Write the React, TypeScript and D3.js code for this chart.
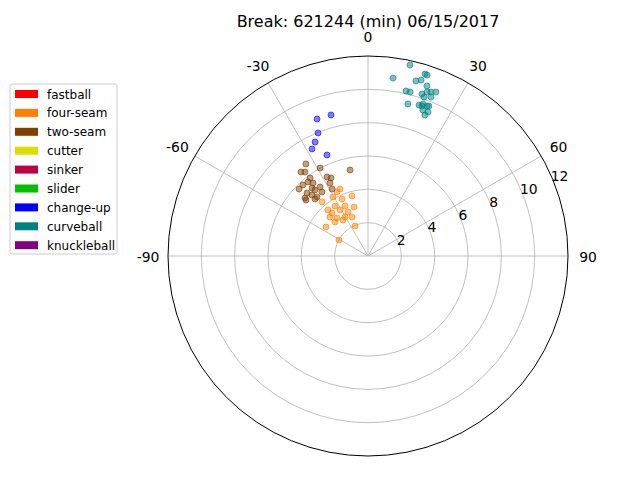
import * as d3 from "d3"

// pitch break samples: [theta (deg, 0 = up, clockwise), break (in)]
const fourSeam: [number, number][] = [
  [-22.7, 4.36], [-25.8, 4.27], [-30.7, 4.12], [-24.5, 3.76], [-14.9, 3.73], [-40.4, 4.26],
  [-33.4, 3.59], [-24.7, 3.3], [-15.9, 3.06], [-41.0, 3.66], [-39.9, 3.36], [-31.3, 3.23],
  [-24.4, 2.9], [-44.3, 3.27], [-39.2, 2.94], [-30.5, 2.72], [-22.3, 2.53], [-44.1, 2.84],
  [-34.8, 2.63], [-55.4, 3.06], [-23.4, 1.96], [-61.1, 1.99],
]
const twoSeam: [number, number][] = [
  [-34.0, 6.66], [-38.6, 6.45], [-28.6, 6.01], [-11.8, 5.27], [-36.9, 6.3], [-36.6, 5.83],
  [-39.0, 5.72], [-37.0, 5.48], [-27.4, 5.34], [-25.4, 5.18], [-27.5, 4.94], [-42.5, 5.78],
  [-45.8, 5.77], [-39.5, 5.28], [-38.8, 5.08], [-34.8, 5.04], [-35.7, 4.73], [-28.2, 4.56],
  [-44.1, 5.26], [-42.6, 4.97], [-40.8, 4.68], [-47.4, 5.14], [-42.9, 4.67], [-47.9, 5.01],
]
const changeUp: [number, number][] = [
  [-20.4, 8.77], [-14.7, 8.75], [-22.1, 7.97], [-24.9, 7.54], [-27.6, 7.25], [-22.1, 6.54],
]
const curveball: [number, number][] = [
  [12.4, 11.73], [8.0, 10.78], [17.4, 11.44], [18.1, 11.42], [15.3, 10.89], [16.8, 11.03],
  [19.1, 10.8], [13.0, 10.16], [14.4, 10.16], [18.4, 10.25], [19.8, 10.46], [21.0, 10.54],
  [22.5, 10.65], [21.6, 10.26], [14.7, 9.43], [18.7, 9.56], [19.8, 9.56], [19.9, 9.7],
  [21.5, 9.67], [22.1, 9.71], [20.6, 9.36], [22.6, 9.36], [22.0, 9.12], [19.4, 10.11],
]

const pitchTypes = ["fastball", "four-seam", "two-seam", "cutter", "sinker", "slider", "change-up", "curveball", "knuckleball"]
const pitchColors = ["#ff0000", "#ff8000", "#804000", "#dddd00", "#c00040", "#00c000", "#0000ff", "#008080", "#800080"]
const series = [
  { color: "#ff8000", data: fourSeam },
  { color: "#804000", data: twoSeam },
  { color: "#0000ff", data: changeUp },
  { color: "#008080", data: curveball },
]
const angleTicks = [-90, -60, -30, 0, 30, 60, 90]
const radialTicks = [2, 4, 6, 8, 10, 12]

export default function App() {
  const cx = 368, cy = 256, R = 200
  const r = d3.scaleLinear().domain([0, 12]).range([0, R])
  const ang = (deg: number) => (deg * Math.PI) / 180
  const pos = (deg: number, v: number): [number, number] => [cx + r(v) * Math.sin(ang(deg)), cy - r(v) * Math.cos(ang(deg))]
  const font = "DejaVu Sans, sans-serif"

  return (
    <svg width={640} height={480} style={{ position: "absolute", left: 0, top: 0 }} fontFamily={font}>
      <rect width={640} height={480} fill="#fff" />
      <text x={368} y={27} textAnchor="middle" fontSize={16}>Break: 621244 (min) 06/15/2017</text>
      {radialTicks.slice(0, -1).map((t) => (
        <circle key={t} cx={cx} cy={cy} r={r(t)} fill="none" stroke="#b0b0b0" strokeWidth={0.8} />
      ))}
      {angleTicks.map((a) => {
        const [x, y] = pos(a, 12)
        return <line key={a} x1={cx} y1={cy} x2={x} y2={y} stroke="#b0b0b0" strokeWidth={0.8} />
      })}
      <circle cx={cx} cy={cy} r={R} fill="none" stroke="#000" strokeWidth={1} />
      {angleTicks.map((a) => {
        const [x, y] = pos(a, 13.2)
        return (
          <text key={a} x={x} y={y + 1} textAnchor="middle" dominantBaseline="central" fontSize={13.9}>{a}</text>
        )
      })}
      {radialTicks.map((t) => {
        const [x, y] = pos(67.5, t)
        return (
          <text key={t} x={x - 2} y={y + 2} fontSize={13.9}>{t}</text>
        )
      })}
      {series.map((s) =>
        s.data.map(([a, v], i) => {
          const [x, y] = pos(a, v)
          return <circle key={s.color + i} cx={x} cy={y} r={3} fill={s.color} fillOpacity={0.5} stroke={s.color} strokeOpacity={0.6} />
        })
      )}
      <g transform="translate(10,84)">
        <rect width={107} height={170} fill="#fff" stroke="#ccc" rx={2} />
        {pitchTypes.map((p, i) => (
          <g key={p} transform={`translate(0,${i * 18.9})`}>
            <rect x={5} y={6} width={23} height={8} fill={pitchColors[i]} />
            <text x={37} y={14.5} fontSize={12}>{p}</text>
          </g>
        ))}
      </g>
    </svg>
  )
}
